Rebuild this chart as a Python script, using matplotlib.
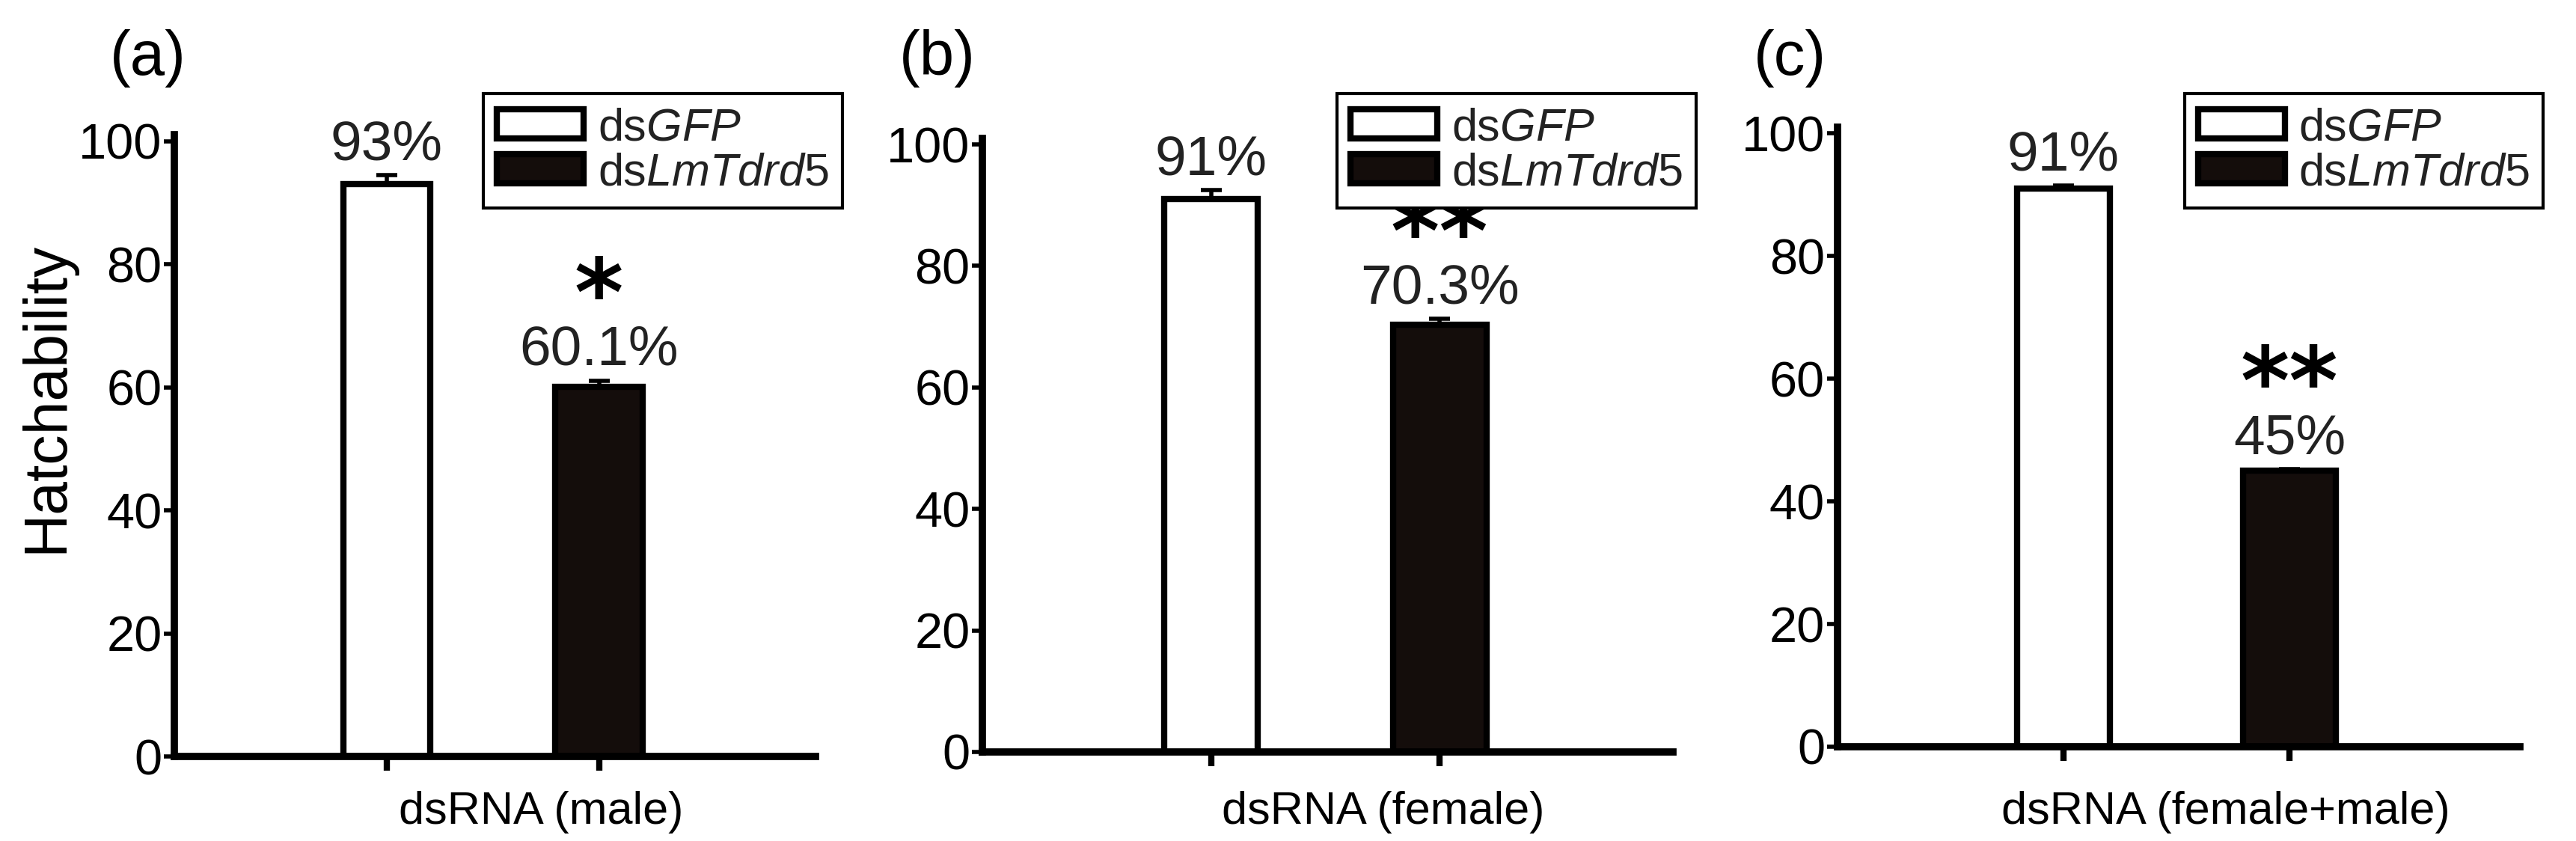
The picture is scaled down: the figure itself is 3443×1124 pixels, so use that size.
import matplotlib.pyplot as plt
from matplotlib.patches import Patch

plt.rcParams['font.family'] = ['Liberation Sans', 'DejaVu Sans']
plt.rcParams['mathtext.fontset'] = 'custom'
plt.rcParams['mathtext.rm'] = 'Liberation Sans'
plt.rcParams['mathtext.it'] = 'Liberation Sans:italic'

groups = ["dsGFP", "dsLmTdrd5"]
panel_tags = ["(a)", "(b)", "(c)"]
xlabels = ["dsRNA (male)", "dsRNA (female)", "dsRNA (female+male)"]
values = [[93, 60.1], [91, 70.3], [91, 45]]
errors = [[1.5, 1.0], [1.5, 1.0], [0.5, 0.3]]
pct_labels = [["93%", "60.1%"], ["91%", "70.3%"], ["91%", "45%"]]
stars = ["*", "**", "**"]
yticks = [0, 20, 40, 60, 80, 100]

axes_rects = [[0.0677, 0.1005, 0.2489, 0.739],
              [0.3814, 0.1059, 0.2680, 0.7295],
              [0.7133, 0.1121, 0.2649, 0.7367]]
tag_x = [0.0575, 0.364, 0.695]
xlabel_x = [0.21, 0.537, 0.864]
legend_x = [0.1876, 0.519, 0.848]

fig = plt.figure(figsize=(34.43, 11.24), dpi=100)
for i in range(3):
    ax = fig.add_axes(axes_rects[i])
    ax.bar([0, 1], values[i], width=0.41, color=['white', '#140d0b'],
           edgecolor='black', linewidth=6, zorder=2)
    ax.errorbar([0, 1], values[i], yerr=[[0, 0], errors[i]], fmt='none',
                ecolor='black', elinewidth=4, capsize=10, capthick=4, zorder=1)
    for j in range(2):
        top = values[i][j] + errors[i][j]
        ax.annotate(pct_labels[i][j], (j, top), xytext=(0, 4), textcoords='offset points',
                    ha='center', va='bottom', fontsize=54, color='#222222')
    ax.annotate(stars[i], (1, values[i][1] + errors[i][1]), xytext=(0, 34),
                textcoords='offset points', ha='center', va='bottom', fontsize=90,
                fontweight='bold', family=['DejaVu Sans'])
    ax.set_xlim(-1, 2.02)
    ax.set_ylim(0, 101)
    ax.set_yticks(yticks)
    ax.set_xticks([0, 1])
    ax.set_xticklabels([])
    ax.tick_params(axis='y', labelsize=48, width=4, length=10, pad=2)
    ax.tick_params(axis='x', width=6, length=14)
    for s in ['top', 'right']:
        ax.spines[s].set_visible(False)
    for s in ['left', 'bottom']:
        ax.spines[s].set_linewidth(7)
    fig.text(tag_x[i], 0.931, panel_tags[i], fontsize=60, ha='center', va='center')
    fig.text(xlabel_x[i], 0.034, xlabels[i], fontsize=44, ha='center', va='center')
    handles = [Patch(facecolor='white', edgecolor='black', linewidth=6),
               Patch(facecolor='#140d0b', edgecolor='black', linewidth=6)]
    leg = fig.legend(handles, [r'ds$\it{GFP}$', r'ds$\it{LmTdrd5}$'], loc='upper left',
                     bbox_to_anchor=(legend_x[i], 0.889), fancybox=False, edgecolor='black',
                     framealpha=1, borderaxespad=0, handlelength=1.9, handleheight=0.6,
                     handletextpad=0.3, labelspacing=0.05, borderpad=0.3,
                     prop={'size': 44})
    leg.get_frame().set_linewidth(3)
    plt.setp(leg.get_texts(), color='#222222')

fig.text(0.018, 0.528, "Hatchability", rotation=90, fontsize=58, ha='center', va='center')
fig.savefig('out.png', dpi=100)
